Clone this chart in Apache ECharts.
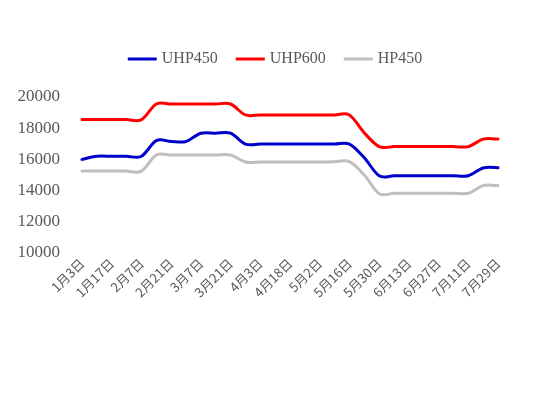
<!DOCTYPE html>
<html>
<head>
<meta charset="utf-8">
<script src="https://cdn.jsdelivr.net/npm/echarts@6/dist/echarts.min.js"></script>
<style>html,body{margin:0;padding:0;background:#fff}#c{width:550px;height:393px}</style>
</head>
<body>
<div id="c"></div>
<script>
const categories = ['1月3日','1月10日','1月17日','1月24日','2月7日','2月14日','2月21日','2月28日','3月7日','3月14日','3月21日','3月28日','4月3日','4月11日','4月18日','4月25日','5月2日','5月9日','5月16日','5月23日','5月30日','6月6日','6月13日','6月20日','6月27日','7月4日','7月11日','7月18日','7月29日'];
const uhp450 = [16000,16200,16200,16200,16200,17200,17150,17150,17680,17680,17680,16980,16980,16980,16980,16980,16980,16980,16980,16100,14950,14950,14950,14950,14950,14950,14950,15450,15470];
const uhp600 = [18550,18550,18550,18550,18550,19550,19550,19550,19550,19550,19550,18850,18850,18850,18850,18850,18850,18850,18850,17700,16820,16820,16820,16820,16820,16820,16820,17300,17300];
const hp450 = [15250,15250,15250,15250,15250,16280,16280,16280,16280,16280,16280,15830,15830,15830,15830,15830,15830,15850,15850,15000,13800,13830,13830,13830,13830,13830,13830,14320,14320];
const yTicks = {min: 10000, max: 20000, interval: 2000};

const chart = echarts.init(document.getElementById('c'), null, {renderer: 'canvas'});

// Smoothed line (Catmull-Rom style, like spreadsheet smoothing) drawn through the axis scales
function mk(name, values, color) {
  return {
    name, type: 'custom', color, itemStyle: {color},
    data: values.map((v, i) => [i, v]),
    encode: {x: 0, y: 1},
    renderItem: (params, api) => {
      if (params.dataIndex !== 0) return null;
      const pts = values.map((v, i) => api.coord([i, v]));
      const n = pts.length;
      let d = 'M' + pts[0][0] + ' ' + pts[0][1];
      for (let i = 0; i < n - 1; i++) {
        const p0 = pts[Math.max(i - 1, 0)], p1 = pts[i], p2 = pts[i + 1], p3 = pts[Math.min(i + 2, n - 1)];
        const c1x = p1[0] + (p2[0] - p0[0]) / 6, c1y = p1[1] + (p2[1] - p0[1]) / 6;
        const c2x = p2[0] - (p3[0] - p1[0]) / 6, c2y = p2[1] - (p3[1] - p1[1]) / 6;
        d += ' C' + c1x + ' ' + c1y + ' ' + c2x + ' ' + c2y + ' ' + p2[0] + ' ' + p2[1];
      }
      return {
        type: 'path', shape: {pathData: d},
        style: {stroke: color, lineWidth: 3, fill: null, lineJoin: 'round', lineCap: 'round'}
      };
    }
  };
}

chart.setOption({
  animation: false,
  legend: {
    top: 46, left: 'center', icon: 'rect', itemWidth: 29, itemHeight: 3, itemGap: 18,
    textStyle: {fontFamily: 'Liberation Serif', fontSize: 16, color: '#595959'},
    data: ['UHP450','UHP600','HP450']
  },
  grid: {left: 82, right: 52, top: 97, bottom: 140},
  xAxis: {
    type: 'category', data: categories, boundaryGap: false,
    axisLine: {show: false}, axisTick: {show: false},
    axisLabel: {interval: 1, rotate: 45, margin: 8, color: '#595959', fontSize: 13, fontFamily: 'Noto Sans CJK SC'}
  },
  yAxis: {
    type: 'value', min: yTicks.min, max: yTicks.max, interval: yTicks.interval,
    axisLine: {show: false}, axisTick: {show: false}, splitLine: {show: false},
    axisLabel: {margin: 22, color: '#595959', fontSize: 17, fontFamily: 'Liberation Serif', formatter: v => String(v)}
  },
  series: [mk('UHP450', uhp450, '#0000CC'), mk('UHP600', uhp600, '#FF0000'), mk('HP450', hp450, '#BFBFBF')]
});
</script>
</body>
</html>
